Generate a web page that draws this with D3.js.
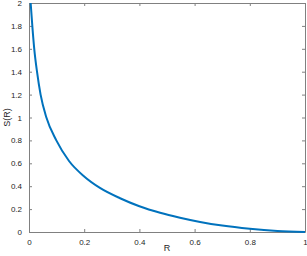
<!DOCTYPE html>
<html>
<head>
<meta charset="utf-8">
<script src="https://cdn.jsdelivr.net/npm/d3@7"></script>
<style>
body { margin: 0; background: #fff; }
svg { display: block; font-family: "Liberation Sans", Arial, sans-serif; }
.tick text { fill: #262626; font-size: 8px; }
.domain, .tick line { stroke: #808080; }
</style>
</head>
<body>
<svg id="chart" width="307" height="256"></svg>
<script>
// values
var rVals = [0.006, 0.012, 0.019, 0.029, 0.042, 0.063, 0.099, 0.145, 0.2, 0.257, 0.33, 0.4, 0.475, 0.547, 0.62, 0.7, 0.8, 0.9, 1.0];
var sVals = [2.0, 1.8, 1.6, 1.4, 1.2, 1.0, 0.8, 0.62, 0.485, 0.385, 0.295, 0.225, 0.168, 0.125, 0.088, 0.056, 0.028, 0.009, 0];
var xTicks = [0, 0.2, 0.4, 0.6, 0.8, 1];
var yTicks = [0, 0.2, 0.4, 0.6, 0.8, 1, 1.2, 1.4, 1.6, 1.8, 2];

var m = {left: 29, right: 2, top: 3, bottom: 24};
var W = 307, H = 256;

var svg = d3.select("#chart");
var x = d3.scaleLinear().domain([0, 1]).range([m.left, W - m.right]);
var y = d3.scaleLinear().domain([0, 2]).range([H - m.bottom, m.top]);

var fmt = d => d3.format("~g")(d);

svg.append("g")
   .attr("transform", "translate(0," + (H - m.bottom) + ")")
   .call(d3.axisBottom(x).tickValues(xTicks).tickFormat(fmt).tickSizeInner(-3).tickSizeOuter(0).tickPadding(7));
svg.append("g")
   .attr("transform", "translate(0," + m.top + ")")
   .call(d3.axisTop(x).tickValues(xTicks).tickFormat("").tickSizeInner(-3).tickSizeOuter(0));
svg.append("g")
   .attr("transform", "translate(" + m.left + ",0)")
   .call(d3.axisLeft(y).tickValues(yTicks).tickFormat(fmt).tickSizeInner(-3).tickSizeOuter(0).tickPadding(7));
svg.append("g")
   .attr("transform", "translate(" + (W - m.right) + ",0)")
   .call(d3.axisRight(y).tickValues(yTicks).tickFormat("").tickSizeInner(-3).tickSizeOuter(0));

var pts = rVals.map((r, i) => [r, sVals[i]]);
var line = d3.line().x(d => x(d[0])).y(d => y(d[1])).curve(d3.curveMonotoneX);

svg.append("path")
   .datum(pts)
   .attr("d", line)
   .attr("fill", "none")
   .attr("stroke", "#0072BD")
   .attr("stroke-width", 2);

svg.append("text")
   .attr("x", (m.left + W - m.right) / 2)
   .attr("y", 251)
   .attr("text-anchor", "middle")
   .attr("font-size", 9)
   .attr("fill", "#262626")
   .text("R");

svg.append("text")
   .attr("transform", "translate(10," + ((m.top + H - m.bottom) / 2) + ") rotate(-90)")
   .attr("text-anchor", "middle")
   .attr("font-size", 9)
   .attr("fill", "#262626")
   .text("S(R)");
</script>
</body>
</html>
